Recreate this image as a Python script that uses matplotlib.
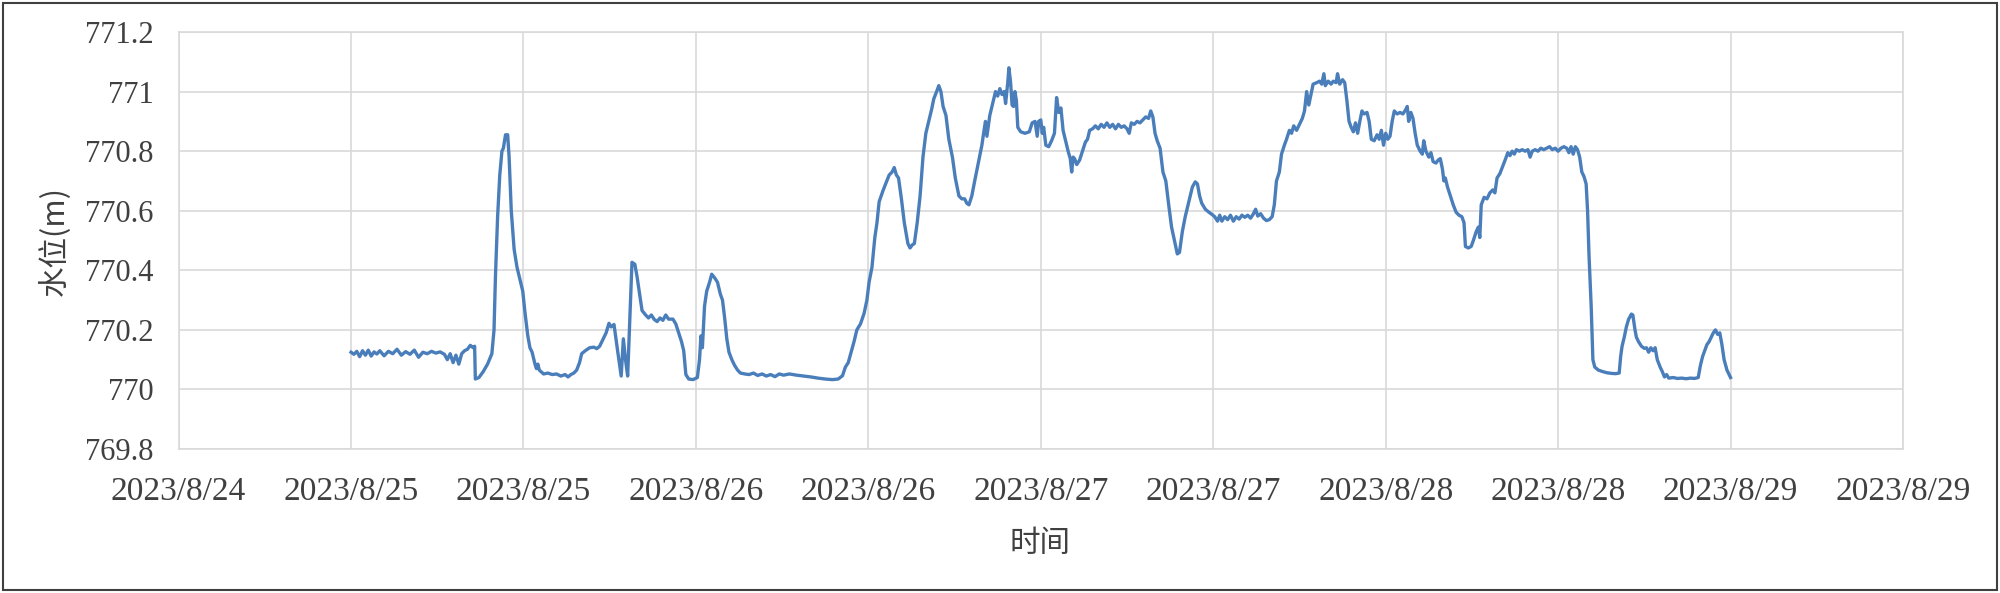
import matplotlib
matplotlib.use("Agg")
import matplotlib.pyplot as plt
from matplotlib.patches import Rectangle

# hours since 2023/8/25 00:00
hours = [
    0, 0.2, 0.4, 0.6, 0.8, 1.0, 1.2, 1.4, 1.6, 1.8,
    2.0, 2.3, 2.6, 2.9, 3.2, 3.5, 3.8, 4.1, 4.4, 4.7,
    5.0, 5.3, 5.6, 5.9, 6.2, 6.5, 6.7, 6.9, 7.1, 7.3,
    7.5, 7.7, 7.9, 8.1, 8.3, 8.5, 8.6, 8.65, 8.9, 9.2,
    9.5, 9.8, 9.95, 10.05, 10.2, 10.35, 10.5, 10.6, 10.75, 10.9,
    11.0, 11.15, 11.35, 11.55, 11.75, 11.95, 12.1, 12.3, 12.45, 12.6,
    12.8, 12.9, 13.0, 13.1, 13.4, 13.7, 14.0, 14.3, 14.6, 14.9,
    15.1, 15.3, 15.5, 15.7, 15.9, 16.05, 16.3, 16.6, 16.9, 17.1,
    17.3, 17.5, 17.75, 17.95, 18.1, 18.3, 18.55, 18.8, 18.95, 19.1,
    19.25, 19.45, 19.55, 19.75, 19.9, 20.05, 20.25, 20.5, 20.7, 20.9,
    21.1, 21.3, 21.5, 21.7, 21.9, 22.1, 22.4, 22.6, 22.8, 23.0,
    23.15, 23.3, 23.5, 23.8, 24.1, 24.25, 24.35, 24.45, 24.6, 24.75,
    24.95, 25.1, 25.3, 25.5, 25.7, 25.85, 26.0, 26.15, 26.3, 26.5,
    26.7, 26.9, 27.1, 27.4, 27.7, 28.0, 28.3, 28.6, 28.9, 29.2,
    29.5, 29.8, 30.1, 30.5, 31.0, 31.5, 32.0, 32.5, 33.0, 33.5,
    33.9, 34.2, 34.4, 34.6, 34.8, 35.0, 35.2, 35.45, 35.7, 35.9,
    36.05, 36.25, 36.45, 36.6, 36.75, 37.0, 37.2, 37.45, 37.65, 37.8,
    37.95, 38.1, 38.3, 38.5, 38.75, 38.9, 39.05, 39.2, 39.4, 39.6,
    39.8, 40.0, 40.2, 40.4, 40.55, 40.75, 40.9, 41.05, 41.2, 41.4,
    41.6, 41.85, 42.05, 42.3, 42.5, 42.7, 42.85, 43.0, 43.2, 43.4,
    43.65, 43.9, 44.05, 44.15, 44.25, 44.45, 44.65, 44.85, 45.0, 45.15,
    45.3, 45.45, 45.55, 45.7, 45.78, 45.9, 46.0, 46.1, 46.2, 46.3,
    46.4, 46.6, 46.9, 47.2, 47.4, 47.6, 47.75, 47.85, 48.0, 48.1,
    48.2, 48.35, 48.55, 48.75, 48.95, 49.1, 49.25, 49.4, 49.55, 49.7,
    49.9, 50.05, 50.15, 50.25, 50.35, 50.5, 50.7, 50.9, 51.1, 51.25,
    51.4, 51.6, 51.8, 52.0, 52.2, 52.4, 52.6, 52.8, 53.0, 53.2,
    53.4, 53.6, 53.8, 54.0, 54.15, 54.3, 54.5, 54.7, 54.9, 55.1,
    55.3, 55.5, 55.65, 55.8, 55.95, 56.1, 56.3, 56.5, 56.7, 56.9,
    57.1, 57.3, 57.5, 57.65, 57.85, 58.05, 58.3, 58.55, 58.75, 58.9,
    59.05, 59.2, 59.45, 59.7, 59.9, 60.1, 60.3, 60.45, 60.6, 60.8,
    61.0, 61.2, 61.4, 61.6, 61.8, 62.0, 62.2, 62.4, 62.6, 62.8,
    62.95, 63.1, 63.3, 63.5, 63.7, 63.9, 64.1, 64.25, 64.4, 64.6,
    64.75, 64.95, 65.1, 65.3, 65.45, 65.6, 65.8, 66.0, 66.2, 66.35,
    66.5, 66.65, 66.8, 66.95, 67.2, 67.4, 67.55, 67.7, 67.8, 68.0,
    68.2, 68.35, 68.55, 68.65, 68.8, 69.0, 69.15, 69.3, 69.45, 69.6,
    69.75, 69.9, 70.05, 70.2, 70.35, 70.5, 70.7, 70.85, 71.0, 71.2,
    71.4, 71.55, 71.7, 71.85, 72.0, 72.15, 72.3, 72.45, 72.6, 72.8,
    73.0, 73.2, 73.4, 73.5, 73.6, 73.75, 73.9, 74.05, 74.2, 74.4,
    74.55, 74.65, 74.8, 75.0, 75.15, 75.3, 75.5, 75.65, 75.8, 75.95,
    76.05, 76.15, 76.3, 76.5, 76.7, 76.9, 77.1, 77.3, 77.45, 77.55,
    77.75, 77.95, 78.1, 78.3, 78.45, 78.55, 78.65, 78.85, 79.05, 79.25,
    79.45, 79.6, 79.75, 79.95, 80.15, 80.35, 80.5, 80.65, 80.8, 80.95,
    81.1, 81.3, 81.5, 81.7, 81.9, 82.05, 82.2, 82.4, 82.6, 82.8,
    83.0, 83.2, 83.4, 83.6, 83.8, 84.0, 84.2, 84.4, 84.6, 84.75,
    84.9, 85.05, 85.2, 85.35, 85.5, 85.65, 85.8, 85.95, 86.05, 86.15,
    86.3, 86.42, 86.55, 86.8, 87.1, 87.4, 87.7, 88.0, 88.25, 88.35,
    88.45, 88.6, 88.75, 88.9, 89.1, 89.2, 89.35, 89.45, 89.6, 89.8,
    90.0, 90.15, 90.3, 90.45, 90.6, 90.75, 90.9, 91.1, 91.25, 91.4,
    91.55, 91.7, 92.0, 92.3, 92.6, 92.9, 93.2, 93.5, 93.75, 93.9,
    94.05, 94.2, 94.35, 94.5, 94.65, 94.8, 94.95, 95.1, 95.25, 95.4,
    95.55, 95.75, 96.0,
]

water_level = [
    770.125, 770.118, 770.128, 770.11, 770.13, 770.115, 770.132, 770.112, 770.126, 770.119,
    770.13, 770.113, 770.128, 770.12, 770.135, 770.115, 770.127, 770.118, 770.132, 770.108,
    770.125, 770.12, 770.128, 770.122, 770.126, 770.118, 770.1, 770.12, 770.09, 770.115,
    770.085, 770.12, 770.13, 770.135, 770.148, 770.14, 770.145, 770.035, 770.04, 770.06,
    770.085, 770.12, 770.2, 770.38, 770.58, 770.72, 770.8, 770.81, 770.855, 770.855,
    770.78, 770.6, 770.47, 770.41, 770.37, 770.33, 770.26, 770.18, 770.14, 770.125,
    770.085, 770.07, 770.085, 770.065, 770.052, 770.055, 770.05, 770.052, 770.045, 770.05,
    770.042, 770.05, 770.055, 770.065, 770.09, 770.12, 770.13, 770.14, 770.142, 770.137,
    770.145, 770.165, 770.19, 770.222, 770.21, 770.218, 770.13, 770.045, 770.17, 770.1,
    770.045, 770.3, 770.427, 770.42, 770.38, 770.33, 770.265, 770.25, 770.24, 770.25,
    770.235, 770.228, 770.24, 770.232, 770.25, 770.236, 770.236, 770.22, 770.19, 770.16,
    770.13, 770.05, 770.035, 770.033, 770.04, 770.1, 770.18, 770.14, 770.28, 770.33,
    770.36, 770.387, 770.375, 770.36, 770.32, 770.3, 770.24, 770.17, 770.125, 770.1,
    770.08, 770.065, 770.055, 770.052, 770.05, 770.055, 770.047, 770.052, 770.045, 770.05,
    770.043, 770.052, 770.048, 770.052, 770.048, 770.045, 770.042, 770.038, 770.035, 770.033,
    770.035, 770.046, 770.075, 770.09, 770.125, 770.16, 770.2, 770.22, 770.255, 770.3,
    770.36, 770.41, 770.51, 770.56, 770.63, 770.665, 770.69, 770.72, 770.73, 770.745,
    770.72, 770.71, 770.64, 770.56, 770.49, 770.475, 770.485, 770.49, 770.56, 770.65,
    770.78, 770.86, 770.9, 770.94, 770.975, 771.0, 771.02, 771.0, 770.95, 770.92,
    770.84, 770.78, 770.71, 770.65, 770.64, 770.64, 770.625, 770.62, 770.65, 770.7,
    770.76, 770.82, 770.87, 770.9, 770.85, 770.92, 770.96, 771.0, 770.985, 771.01,
    770.99, 771.0, 770.96, 771.03, 771.08, 771.03, 770.955, 770.95, 771.0, 770.97,
    770.88, 770.865, 770.86, 770.865, 770.895, 770.9, 770.85, 770.9, 770.905, 770.86,
    770.88, 770.82, 770.815, 770.835, 770.86, 770.98, 770.93, 770.945, 770.87, 770.84,
    770.8, 770.775, 770.73, 770.78, 770.775, 770.755, 770.77, 770.8, 770.83, 770.84,
    770.87, 770.875, 770.885, 770.875, 770.89, 770.88, 770.895, 770.88, 770.89, 770.875,
    770.89, 770.88, 770.885, 770.875, 770.86, 770.895, 770.89, 770.9, 770.895, 770.905,
    770.915, 770.91, 770.935, 770.915, 770.86, 770.835, 770.81, 770.73, 770.7, 770.62,
    770.545, 770.5, 770.455, 770.46, 770.53, 770.58, 770.63, 770.68, 770.697, 770.69,
    770.65, 770.625, 770.605, 770.595, 770.588, 770.58, 770.565, 770.585, 770.565, 770.58,
    770.57, 770.585, 770.565, 770.58, 770.572, 770.585, 770.578, 770.585, 770.575, 770.59,
    770.605, 770.582, 770.59, 770.575, 770.567, 770.57, 770.58, 770.62, 770.7, 770.73,
    770.79, 770.82, 770.84, 770.87, 770.86, 770.885, 770.87, 770.89, 770.91, 770.935,
    771.0, 770.955, 770.99, 771.025, 771.03, 771.035, 771.025, 771.06, 771.02, 771.035,
    771.025, 771.035, 771.03, 771.06, 771.025, 771.04, 771.03, 770.97, 770.9, 770.88,
    770.865, 770.895, 770.86, 770.9, 770.935, 770.925, 770.93, 770.9, 770.84, 770.835,
    770.855, 770.84, 770.87, 770.82, 770.86, 770.84, 770.85, 770.9, 770.935, 770.925,
    770.93, 770.925, 770.94, 770.95, 770.9, 770.93, 770.91, 770.86, 770.82, 770.8,
    770.79, 770.835, 770.8, 770.78, 770.795, 770.765, 770.76, 770.77, 770.775, 770.74,
    770.7, 770.71, 770.68, 770.65, 770.62, 770.595, 770.585, 770.58, 770.56, 770.48,
    770.475, 770.48, 770.5, 770.53, 770.545, 770.51, 770.62, 770.645, 770.64, 770.66,
    770.67, 770.66, 770.71, 770.725, 770.75, 770.775, 770.795, 770.785, 770.8, 770.79,
    770.805, 770.8, 770.805, 770.8, 770.805, 770.78, 770.8, 770.805, 770.8, 770.81,
    770.805, 770.81, 770.815, 770.805, 770.81, 770.8, 770.81, 770.815, 770.81, 770.795,
    770.815, 770.79, 770.815, 770.805, 770.78, 770.73, 770.715, 770.69, 770.6, 770.45,
    770.28, 770.1, 770.075, 770.065, 770.06, 770.056, 770.054, 770.053, 770.055, 770.11,
    770.145, 770.175, 770.21, 770.235, 770.253, 770.25, 770.2, 770.175, 770.16, 770.145,
    770.138, 770.14, 770.125, 770.14, 770.13, 770.14, 770.1, 770.075, 770.06, 770.042,
    770.05, 770.038, 770.04, 770.037, 770.038, 770.036, 770.038, 770.037, 770.04, 770.08,
    770.11, 770.13, 770.15, 770.16, 770.175, 770.19, 770.2, 770.185, 770.19, 770.15,
    770.1, 770.065, 770.04,
]

# x ticks every 12 hours, from 2023/8/24 12:00 to 2023/8/29 12:00
x_tick_hours = [-12, 0, 12, 24, 36, 48, 60, 72, 84, 96, 108]
x_tick_labels = ["2023/8/24", "2023/8/25", "2023/8/25", "2023/8/26", "2023/8/26",
                 "2023/8/27", "2023/8/27", "2023/8/28", "2023/8/28", "2023/8/29", "2023/8/29"]
y_ticks = [769.8, 770.0, 770.2, 770.4, 770.6, 770.8, 771.0, 771.2]
y_tick_labels = ["769.8", "770", "770.2", "770.4", "770.6", "770.8", "771", "771.2"]

CJK = ["Noto Sans CJK SC", "DejaVu Sans"]
SERIF = "Liberation Serif"
TXT = "#404040"
GRID = "#d9d9d9"

fig = plt.figure(figsize=(20, 5.93), dpi=100)
ax = fig.add_axes([0.0893, 0.2428, 0.9515 - 0.0893, 0.946 - 0.2428])

ax.plot(hours, water_level, color="#4a7ebb", linewidth=2.4, solid_joinstyle="round")

ax.set_xlim(-12, 108)
ax.set_ylim(769.8, 771.2)
ax.set_xticks(x_tick_hours)
ax.set_xticklabels(x_tick_labels, fontfamily=SERIF, fontsize=24, color=TXT)
ax.set_yticks(y_ticks)
ax.set_yticklabels(y_tick_labels, fontfamily=SERIF, fontsize=22, color=TXT)
ax.tick_params(axis="both", length=0)
ax.tick_params(axis="x", pad=20)
ax.tick_params(axis="y", pad=18)
ax.grid(True, color=GRID, linewidth=1.2)
ax.set_axisbelow(True)
for s in ax.spines.values():
    s.set_color(GRID)
    s.set_linewidth(1.2)

ax.set_ylabel("水位(m)", fontfamily=CJK, fontsize=22, color=TXT, labelpad=10)
fig.text(0.52, 0.0843, "时间", fontfamily=CJK, fontsize=22, color=TXT,
         ha="center", va="center")

fig.patches.append(Rectangle((0.0015, 0.005), 0.997, 0.99, transform=fig.transFigure,
                             fill=False, edgecolor="#404040", linewidth=1.5))

fig.savefig("out.png", dpi=100)
